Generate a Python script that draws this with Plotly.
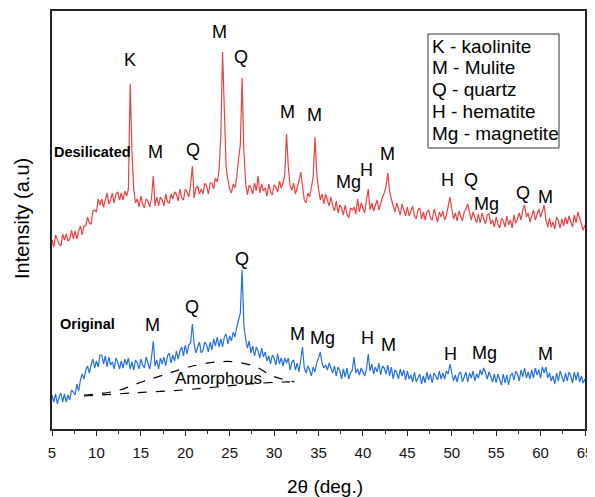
import numpy as np
import plotly.graph_objects as go

# 2-theta grid (deg), 0.2 deg step
two_theta = np.round(np.arange(5.0, 65.0001, 0.2), 1)

# Desilicated pattern (arbitrary intensity units, offset)
desilicated = [
    189,182,194,189,185,183,195,189,195,188,
    190,199,190,198,190,198,203,194,203,203,
    212,206,205,218,219,217,230,224,230,222,
    230,236,225,229,236,226,235,237,229,236,
    229,238,233,240,345,278,240,226,230,222,
    233,225,221,230,228,222,231,253,223,232,
    223,232,229,223,235,227,226,235,230,237,
    235,228,240,231,229,240,237,232,244,263,
    231,241,243,235,240,235,246,243,235,246,
    246,240,251,247,258,292,377,318,262,249,
    240,236,245,241,252,270,284,351,278,246,
    234,244,241,235,246,238,253,236,245,238,
    241,233,245,237,234,244,242,237,248,241,
    246,254,295,262,243,239,246,235,241,248,
    257,240,229,226,236,232,244,252,292,256,
    240,229,235,225,235,229,223,232,223,218,
    228,216,224,221,214,224,215,211,221,219,
    222,215,230,217,226,221,216,229,240,219,
    226,218,223,229,219,227,232,236,242,256,
    238,230,224,217,226,221,214,225,219,213,
    222,213,218,223,213,210,219,221,210,217,
    209,217,219,211,209,220,214,207,217,212,
    218,209,214,222,232,220,210,216,208,218,
    212,208,217,220,225,216,209,217,212,206,
    215,206,216,209,205,214,215,205,209,202,
    212,205,201,211,208,202,213,204,209,201,
    214,206,210,216,209,219,224,212,216,207,
    214,219,209,215,220,212,218,224,209,202,
    211,202,207,200,212,208,201,210,203,212,
    205,213,207,202,214,206,217,210,204,199,
    204,
]

# Original pattern
original = [
    34,27,35,25,32,36,27,35,27,34,
    29,39,37,34,45,38,49,55,50,59,
    63,56,64,70,61,68,62,74,74,65,
    73,62,72,64,67,60,71,67,60,68,
    61,70,64,71,60,67,59,69,66,60,
    70,64,61,72,66,60,71,88,63,69,
    60,71,65,72,63,73,76,66,74,68,
    78,70,78,82,73,84,75,84,86,105,
    85,76,82,87,76,79,87,84,77,87,
    79,90,83,92,82,90,82,92,95,85,
    93,88,97,92,102,108,116,159,103,90,
    81,88,76,83,73,82,78,71,81,72,
    77,68,73,65,74,71,64,75,65,71,
    63,71,66,71,59,67,69,59,66,57,
    69,82,61,56,63,59,53,62,57,66,
    71,77,66,61,64,59,66,60,56,63,
    53,62,58,50,60,52,61,50,56,59,
    72,56,60,54,61,57,53,60,75,58,
    65,55,62,57,66,54,63,61,55,64,
    53,62,50,59,57,50,60,53,59,49,
    58,50,54,47,57,47,52,55,45,53,
    46,57,49,55,46,56,53,49,58,50,
    56,50,58,55,65,57,48,54,47,55,
    57,47,53,57,47,56,51,58,48,55,
    51,59,54,61,56,50,57,52,47,55,
    46,55,50,44,55,46,54,44,53,56,
    49,58,55,48,59,52,61,51,57,50,
    59,51,61,54,59,51,62,56,62,51,
    56,48,53,45,56,48,58,53,47,56,
    48,57,53,46,57,49,57,47,53,46,
    50,
]

# Amorphous hump guide lines (dashed)
amorph_upper_x = [8.6, 12.2, 15.1, 17.9, 20.4, 23.5, 25.7, 28.0, 29.8, 32.3]
amorph_upper_y = [34, 38, 47, 55, 62, 67, 67, 62, 53, 47]
amorph_lower_x = [8.6, 14.0, 19.7, 23.5, 27.2, 31.0, 32.3]
amorph_lower_y = [33, 36, 39, 42, 45, 47, 47]

# Phase labels on the desilicated pattern
des_lab_text = ["K", "M", "Q", "M", "Q", "M", "M", "Mg", "H", "M", "H", "Q", "Mg", "Q", "M"]
des_lab_x = [13.8, 16.6, 20.9, 23.9, 26.3, 31.5, 34.6, 38.4, 40.4, 42.8, 49.5, 52.2, 53.9, 58.0, 60.6]
des_lab_y = [369, 277, 279, 397, 372, 317, 314, 247, 259, 275, 249, 249, 225, 236, 232]

# Phase labels on the original pattern
ori_lab_text = ["M", "Q", "Q", "M", "Mg", "H", "M", "H", "Mg", "M"]
ori_lab_x = [16.3, 20.8, 26.4, 32.6, 35.4, 40.5, 42.9, 49.9, 53.7, 60.6]
ori_lab_y = [104, 122, 170, 95, 91, 91, 84, 75, 76, 75]

key_lines = ["K - kaolinite", "M - Mulite", "Q - quartz", "H - hematite", "Mg - magnetite"]

FONT = "Liberation Sans, Arial, sans-serif"
fig = go.Figure()

fig.add_trace(go.Scatter(x=two_theta, y=desilicated, mode="lines",
                         line=dict(color="#e94242", width=1.2), showlegend=False, name="Desilicated"))
fig.add_trace(go.Scatter(x=two_theta, y=original, mode="lines",
                         line=dict(color="#2370dd", width=1.2), showlegend=False, name="Original"))
fig.add_trace(go.Scatter(x=amorph_upper_x, y=amorph_upper_y, mode="lines",
                         line=dict(color="black", width=1.2, dash="dash", shape="spline"), showlegend=False))
fig.add_trace(go.Scatter(x=amorph_lower_x, y=amorph_lower_y, mode="lines",
                         line=dict(color="black", width=1.2, dash="dash", shape="spline"), showlegend=False))

for t, x, y in zip(des_lab_text, des_lab_x, des_lab_y):
    fig.add_annotation(x=x, y=y, text=t, showarrow=False, xanchor="center", yanchor="middle",
                       font=dict(family=FONT, size=18, color="black"))
for t, x, y in zip(ori_lab_text, ori_lab_x, ori_lab_y):
    fig.add_annotation(x=x, y=y, text=t, showarrow=False, xanchor="center", yanchor="middle",
                       font=dict(family=FONT, size=18, color="black"))

fig.add_annotation(x=23.7, y=51, text="Amorphous", showarrow=False, xanchor="center", yanchor="middle",
                   font=dict(family=FONT, size=17, color="black"))
fig.add_annotation(x=5.0, y=277, text="<b>Desilicated</b>", showarrow=False, xanchor="left", yanchor="middle",
                   font=dict(family=FONT, size=14.5, color="black"))
fig.add_annotation(x=5.7, y=105, text="<b>Original</b>", showarrow=False, xanchor="left", yanchor="middle",
                   font=dict(family=FONT, size=14.5, color="black"))

# The page body has an 8px default margin, so the figure is sized/offset for it.
OFF = 8
W, H = 595 - OFF, 497 - OFF
L, R, T, B = 52 - OFF, 10, 11 - OFF, 497 - 429
pw, ph = W - L - R, H - T - B
def px(xp):
    return (xp - OFF - L) / pw
def py(yp):
    return 1 - (yp - OFF - T) / ph

fig.add_shape(type="rect", xref="paper", yref="paper", x0=px(428), x1=px(559), y0=py(148), y1=py(34),
              line=dict(color="#333333", width=1), fillcolor="white")
for i, line in enumerate(key_lines):
    fig.add_annotation(xref="paper", yref="paper", x=px(430), y=py(46 + 21.8 * i), text=line,
                       showarrow=False, xanchor="left", yanchor="middle",
                       font=dict(family=FONT, size=19, color="black"))

# axis titles
fig.add_annotation(xref="paper", yref="paper", x=px(325), y=py(486), text="2θ (deg.)",
                   showarrow=False, xanchor="center", yanchor="middle",
                   font=dict(family=FONT, size=19, color="black"))
fig.add_annotation(xref="paper", yref="paper", x=px(22), y=py(219), text="Intensity (a.u)",
                   showarrow=False, xanchor="center", yanchor="middle", textangle=-90,
                   font=dict(family=FONT, size=20, color="black"))

fig.update_layout(
    width=W, height=H,
    margin=dict(l=L, r=R, t=T, b=B, autoexpand=False),
    paper_bgcolor="white", plot_bgcolor="white",
    font=dict(family=FONT, color="black"),
    showlegend=False,
)
fig.update_xaxes(range=[5, 65], tick0=5, dtick=5, ticks="outside", ticklen=5, tickwidth=1,
                 tickcolor="#222", showline=True, linecolor="#222", linewidth=1.5, mirror=True,
                 showgrid=False, zeroline=False, automargin=False, ticklabelstandoff=4,
                 ticklabeloverflow="allow",
                 minor=dict(dtick=2.5, ticks="outside", ticklen=3, tickcolor="#222", showgrid=False),
                 tickfont=dict(size=15, family=FONT, color="#111"))
fig.update_yaxes(range=[0, 418], showticklabels=False, ticks="", showline=True, linecolor="#222",
                 linewidth=1.5, mirror=True, showgrid=False, zeroline=False, automargin=False)

fig.write_html("out.html")
